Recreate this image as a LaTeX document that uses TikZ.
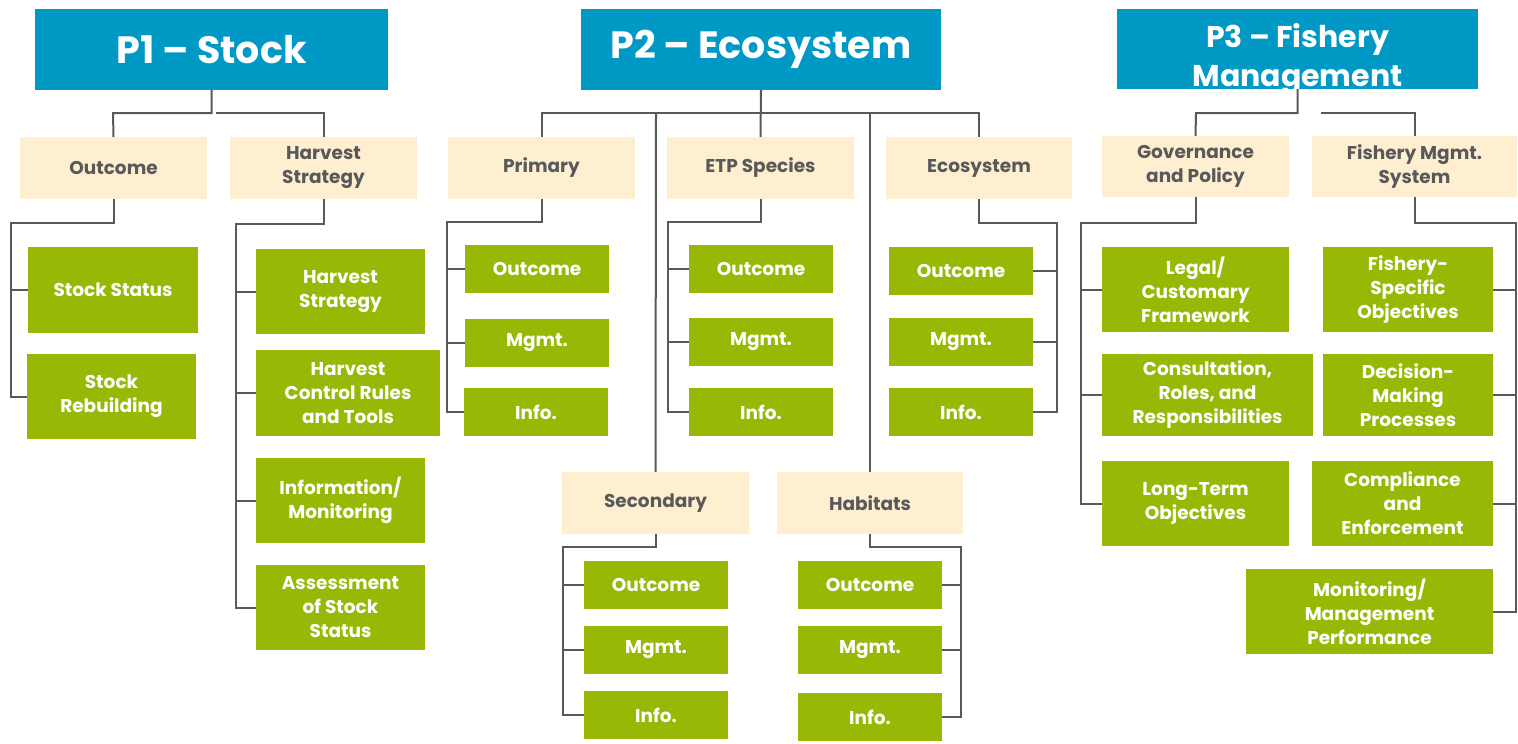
\documentclass[tikz,border=0pt]{standalone}
\usepackage{fontspec}
\setmainfont{Poppins}
\usetikzlibrary{calc}
\definecolor{tblue}{RGB}{0,153,198}
\definecolor{ttan}{RGB}{254,239,208}
\definecolor{tgreen}{RGB}{151,185,6}
\definecolor{tgray}{RGB}{89,89,89}
\newcommand\bx[7]{\node[#6, minimum width={#4-#2}, minimum height={#5-#3}] (#1) at ({(#2+#4)/2},{(#3+#5)/2}) {#7};}
\begin{document}
\begin{tikzpicture}[x=1pt,y=-1pt,
  base/.style={inner sep=0pt, outer sep=0pt, align=center, font=\bfseries\fontsize{18.5}{24}\selectfont},
  title/.style={base, fill=tblue, text=white, font=\bfseries\fontsize{38}{42}\selectfont},
  title3/.style={base, fill=tblue, text=white, font=\bfseries\fontsize{30}{37}\selectfont},
  cat/.style={base, fill=ttan, text=tgray},
  leaf/.style={base, fill=tgreen, text=white},
  conn/.style={draw=tgray, line width=2pt}]
\useasboundingbox (0,0) rectangle (1518,744);
% titles
\bx{p1}{35}{9}{388}{90}{title}{P1 – Stock}
\bx{p2}{581}{9}{941}{90}{title}{P2 – Ecosystem}
\bx{p3}{1117}{9}{1478}{89}{title3}{\raisebox{-10.5pt}[\height][\depth]{\shortstack{P3 – Fishery\\[7pt]Management}}}
% P1
\bx{p1o}{20}{137}{207}{199}{cat}{Outcome}
\bx{p1h}{230}{137}{417}{199}{cat}{Harvest\\Strategy}
\bx{ss}{28}{247}{198}{333}{leaf}{Stock Status}
\bx{sr}{27}{354}{196}{439}{leaf}{Stock\\Rebuilding}
\bx{hs}{256}{249}{425}{334}{leaf}{Harvest\\Strategy}
\bx{hcr}{256}{350}{440}{436}{leaf}{Harvest\\Control Rules\\and Tools}
\bx{im}{256}{458}{425}{543}{leaf}{Information/\\Monitoring}
\bx{as}{256}{565}{425}{650}{leaf}{Assessment\\of Stock\\Status}
% P2
\bx{pri}{448}{137}{635}{199}{cat}{Primary}
\bx{etp}{667}{137}{854}{199}{cat}{ETP Species}
\bx{eco}{886}{137}{1072}{199}{cat}{Ecosystem}
\bx{sec}{562}{472}{749}{534}{cat}{Secondary}
\bx{hab}{777}{472}{963}{534}{cat}{Habitats}
\bx{prio}{465}{245}{609}{293}{leaf}{Outcome}
\bx{prim}{465}{319}{609}{367}{leaf}{Mgmt.}
\bx{prii}{464}{388}{608}{436}{leaf}{Info.}
\bx{etpo}{689}{245}{833}{293}{leaf}{Outcome}
\bx{etpm}{689}{318}{833}{366}{leaf}{Mgmt.}
\bx{etpi}{689}{388}{833}{436}{leaf}{Info.}
\bx{ecoo}{889}{247}{1033}{295}{leaf}{Outcome}
\bx{ecom}{889}{318}{1033}{366}{leaf}{Mgmt.}
\bx{ecoi}{889}{388}{1033}{436}{leaf}{Info.}
\bx{seco}{584}{561}{728}{609}{leaf}{Outcome}
\bx{secm}{584}{626}{728}{674}{leaf}{Mgmt.}
\bx{seci}{584}{691}{728}{739}{leaf}{Info.}
\bx{habo}{798}{561}{942}{609}{leaf}{Outcome}
\bx{habm}{798}{626}{942}{674}{leaf}{Mgmt.}
\bx{habi}{798}{693}{942}{741}{leaf}{Info.}
% P3
\bx{gov}{1102}{136}{1289}{197}{cat}{Governance\\and Policy}
\bx{fms}{1312}{136}{1517}{197}{cat}{Fishery Mgmt.\\System}
\bx{leg}{1102}{247}{1289}{332}{leaf}{Legal/\\Customary\\Framework}
\bx{con}{1102}{354}{1313}{436}{leaf}{Consultation,\\Roles, and\\Responsibilities}
\bx{lto}{1102}{461}{1289}{546}{leaf}{Long-Term\\Objectives}
\bx{fso}{1323}{247}{1493}{332}{leaf}{Fishery-\\Specific\\Objectives}
\bx{dmp}{1323}{354}{1493}{436}{leaf}{Decision-\\Making\\Processes}
\bx{cen}{1312}{461}{1493}{546}{leaf}{Compliance\\and\\Enforcement}
\bx{mmp}{1246}{569}{1493}{654}{leaf}{Monitoring/\\Management\\Performance}
% P1 connectors
\draw[conn] (p1.south) |- (113,113) -- (p1o.north);
\draw[conn] ($(p1.south)+(4,23)$) -| (p1h.north);
\draw[conn] (p1o.south) |- (11,223) |- (ss.west);
\draw[conn] (11,290) |- (sr.west);
\draw[conn] (p1h.south) |- (236,224) |- (hs.west);
\draw[conn] (236,291) |- (hcr.west);
\draw[conn] (236,393) |- (im.west);
\draw[conn] (236,501) |- (as.west);
% P2 connectors
\draw[conn] (p2.south) -- (etp.north);
\draw[conn] (pri.north) |- (979,113) -- (eco.north);
\draw[conn] (656,113) -- (sec.north);
\draw[conn] (870,113) -- (hab.north);
\draw[conn] (pri.south) |- (447,222) |- (prio.west);
\draw[conn] (447,269) |- (prim.west);
\draw[conn] (447,343) |- (prii.west);
\draw[conn] (etp.south) |- (668,222) |- (etpo.west);
\draw[conn] (668,269) |- (etpm.west);
\draw[conn] (668,342) |- (etpi.west);
\draw[conn] (eco.south) |- (1057,223) |- (ecoo.east);
\draw[conn] (1057,271) |- (ecom.east);
\draw[conn] (1057,342) |- (ecoi.east);
\draw[conn] (sec.south) |- (563,547) |- (seco.west);
\draw[conn] (563,585) |- (secm.west);
\draw[conn] (563,650) |- (seci.west);
\draw[conn] (hab.south) |- (961,547) |- (habo.east);
\draw[conn] (961,585) |- (habm.east);
\draw[conn] (961,650) |- (habi.east);
% P3 connectors
\draw[conn] (p3.south) |- (1196,113) -- (gov.north);
\draw[conn] ($(p3.south)+(23,24)$) -| (fms.north);
\draw[conn] (gov.south) |- (1081,223) |- (leg.west);
\draw[conn] (1081,289) |- (con.west);
\draw[conn] (1081,394) |- (lto.west);
\draw[conn] (fms.south) |- (1516,223) |- (fso.east);
\draw[conn] (1516,289) |- (dmp.east);
\draw[conn] (1516,394) |- (cen.east);
\draw[conn] (1516,502) |- (mmp.east);
\end{tikzpicture}
\end{document}
